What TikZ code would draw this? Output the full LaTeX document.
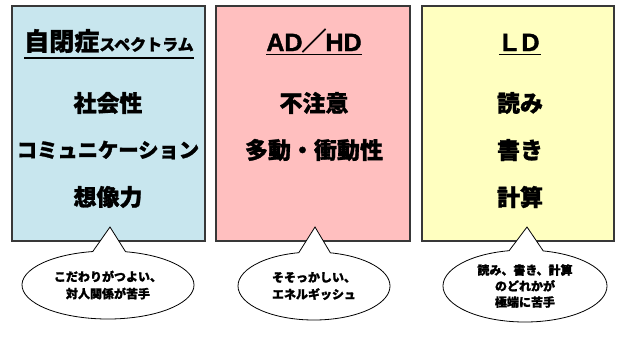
\documentclass[tikz,border=0pt]{standalone}
\usepackage{fontspec}
\setmainfont{Noto Sans CJK JP}[BoldFeatures={FakeBold=1.2}]
\newfontfamily\latinb{Liberation Sans}[BoldFeatures={FakeBold=1.5}]
\usetikzlibrary{shapes.callouts}
\definecolor{asdblue}{HTML}{C8E6EE}
\definecolor{adhdpink}{HTML}{FFBFBF}
\definecolor{ldyellow}{HTML}{FFFFC0}
\definecolor{edge}{HTML}{383838}
\newcommand{\lbox}[2]{\makebox[#1pt]{#2}}
\begin{document}
\begin{tikzpicture}[x=1pt,y=-1pt,
  panel/.style={draw=edge, line width=1.2pt, minimum height=235pt, inner sep=0pt},
  ttl/.style={inner sep=0pt, font=\bfseries},
  item/.style={inner sep=0pt, font=\fontsize{23}{23}\selectfont\bfseries},
  bubble/.style={ellipse callout, draw=black, line width=0.8pt, fill=white, align=center, inner sep=0pt, font=\fontsize{12}{17}\selectfont\bfseries},
  uline/.style={line width=1.5pt, black}]
\useasboundingbox (0,0) rectangle (621,349);
\fill[white] (0,0) rectangle (621,349);
% panels
\node[panel, fill=asdblue, minimum width=193pt] (p1) at (108.5,123.5) {};
\node[panel, fill=adhdpink, minimum width=194pt] (p2) at (313,123.5) {};
\node[panel, fill=ldyellow, minimum width=192pt] (p3) at (518,123.5) {};
% titles
\node[ttl, anchor=base] (t1) at (109,50.5) {\fontsize{25}{25}\selectfont 自閉症\fontsize{16}{16}\selectfont スペクトラム};
\draw[uline] ([yshift=-7.5pt]t1.base west) -- ([yshift=-7.5pt]t1.base east);
\node[ttl, anchor=base] (t2) at (314,51) {\fontsize{25}{25}\selectfont{\latinb AD}\hspace{-1pt}\raisebox{1pt}{／}\hspace{-1pt}{\latinb HD}};
\draw[uline] ([yshift=-3.5pt]t2.base west) -- ([yshift=-3.5pt]t2.base east);
\node[ttl, anchor=base] (t3) at (520,51) {\latinb\fontsize{25}{25}\selectfont\lbox{21}{L}\lbox{21}{D}};
\draw[uline] ([yshift=-3.5pt]t3.base west) -- ([yshift=-3.5pt]t3.base east);
% items
\node[item] (a1) at (108,103) {社会性};
\node[item, font=\fontsize{20.3}{20}\selectfont\bfseries] (a2) at (108,150) {コミュニケーション};
\node[item] (a3) at (108,197) {想像力};
\node[item] (b1) at (314,103) {不注意};
\node[item] (b2) at (314,150) {多動・衝動性};
\node[item] (c1) at (520,103) {読み};
\node[item] (c2) at (520,150) {書き};
\node[item] (c3) at (520,197) {計算};
% callouts
\node[bubble, minimum width=172pt, minimum height=68pt, callout pointer arc=22, callout absolute pointer={(110,227)}] (n1) at (108,285) {こだわりがつよい、\\対人関係が苦手};
\node[bubble, minimum width=152pt, minimum height=68pt, callout pointer arc=24, callout absolute pointer={(315,227)}] (n2) at (314,286) {そそっかしい、\\エネルギッシュ};
\node[bubble, minimum width=164pt, minimum height=72pt, callout pointer arc=24, callout absolute pointer={(527,227)}, font=\fontsize{12}{16}\selectfont\bfseries] (n3) at (525,286) {読み、書き、計算\\のどれかが\\極端に苦手};
\end{tikzpicture}
\end{document}
